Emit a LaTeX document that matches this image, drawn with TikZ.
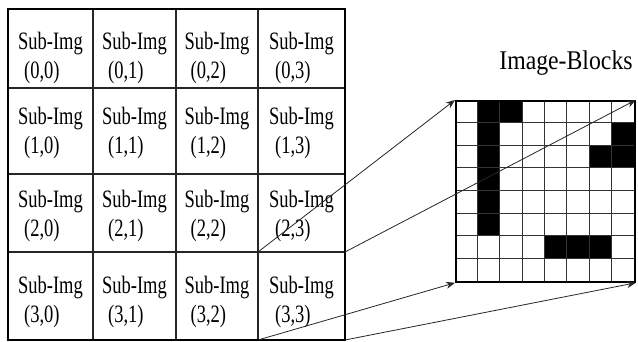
\documentclass[tikz,border=0pt]{standalone}
\usepackage{fontspec}
\setmainfont{Liberation Serif}
\newfontfamily\cellfont[FakeStretch=0.74]{Liberation Serif}
\newfontfamily\titlefont[FakeStretch=0.88]{Liberation Serif}
\usetikzlibrary{arrows.meta}
\tikzset{
  cellbox/.style={draw=black!85, line width=1.2pt, inner sep=0pt, outer sep=0pt},
  celltext/.style={align=left, inner sep=0pt, font=\cellfont\fontsize{25}{29}\selectfont},
  gridline/.style={draw=black!80, line width=1.2pt},
  conn/.style={draw=black!85, line width=0.8pt, -{Stealth[length=9pt,width=7pt]}},
  titletext/.style={inner sep=0pt, font=\titlefont\fontsize{27}{30}\selectfont}
}
\begin{document}
\begin{tikzpicture}[x=1pt,y=-1pt]
\useasboundingbox (0,0) rectangle (638,342);
% left table of sub-images
\foreach \c/\xa/\xb in {0/8/93,1/93/176,2/176/258,3/258/345}{
  \foreach \r/\ya/\yb/\ys in {0/9/88/-9,1/88/174/-2,2/174/252/-3,3/252/340/-6}{
    \node[cellbox, minimum width={(\xb-\xa)*1pt}, minimum height={(\yb-\ya)*1pt}]
      (c\r\c) at ({(\xa+\xb)/2},{(\ya+\yb)/2}) {};
    \node[celltext, yshift=\ys pt] (t\r\c) at (c\r\c.center) {Sub-Img\\\hspace*{6pt}(\r,\c)};
  }
}
\draw[line width=1.6pt] (c00.north west) rectangle (c33.south east);
% image blocks grid
\foreach \r/\c in {0/1,0/2,1/1,2/1,3/1,4/1,5/1,1/7,2/6,2/7,6/4,6/5,6/6}{
  \fill[black] ({455+\c*22.375},{100+\r*22.625}) rectangle ++(22.375,22.625);
}
\foreach \i in {1,...,7}{
  \draw[gridline] ({455+\i*22.375},100) -- ({455+\i*22.375},281);
  \draw[gridline] (455,{100+\i*22.625}) -- (634,{100+\i*22.625});
}
\node[draw=black, line width=1.8pt, minimum width=179pt, minimum height=181pt, inner sep=0pt, anchor=north west] (blocks) at (455,100) {};
\node[titletext] (title) at (566,63) {Image-Blocks};
% connectors
\draw[conn] (c33.north west) -- (blocks.north west);
\draw[conn] (c33.north east) -- (blocks.north east);
\draw[conn] (c33.south west) -- (blocks.south west);
\draw[conn] (c33.south east) -- (blocks.south east);
\end{tikzpicture}
\end{document}
